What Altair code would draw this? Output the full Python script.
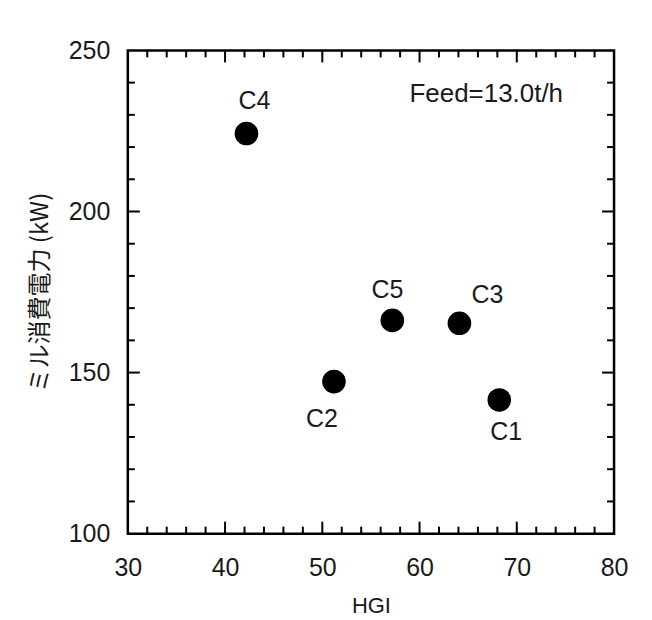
import altair as alt
import pandas as pd

# data
coal = ["C1", "C2", "C3", "C4", "C5"]
hgi = [68.2, 51.2, 64.1, 42.2, 57.2]
power = [141.5, 147.2, 165.3, 224.2, 166.2]

x_major = [40, 50, 60, 70]
x_minor = [32, 34, 36, 38, 42, 44, 46, 48, 52, 54, 56, 58,
           62, 64, 66, 68, 72, 74, 76, 78]
y_major = [150, 200]
y_minor = [110, 120, 130, 140, 160, 170, 180, 190, 210, 220, 230, 240]

x_ticks = [30, 40, 50, 60, 70, 80]
y_ticks = [100, 150, 200, 250]

df = pd.DataFrame({"coal": coal, "hgi": hgi, "power": power})

W, H = 487, 484
FONT = "Liberation Sans"
TXT = "#1a1a1a"

xs = alt.Scale(domain=[30, 80], nice=False, zero=False)
ys = alt.Scale(domain=[100, 250], nice=False, zero=False)

points = alt.Chart(df).mark_circle(size=560, color="black", opacity=1).encode(
    x=alt.X("hgi:Q", scale=xs,
            axis=alt.Axis(title="HGI", values=x_ticks, ticks=False, domain=False,
                          grid=False, labelPadding=22, titlePadding=15,
                          labelFlush=False, labelOverlap=False,
                          labelFontSize=25, titleFontSize=22, labelFont=FONT,
                          titleFont=FONT, labelColor=TXT, titleColor=TXT,
                          titleFontWeight="normal")),
    y=alt.Y("power:Q", scale=ys,
            axis=alt.Axis(title="ミル消費電力 (kW)", values=y_ticks, ticks=False,
                          domain=False, grid=False, labelPadding=18, titlePadding=16,
                          labelFlush=False, labelOverlap=False,
                          labelFontSize=25, titleFontSize=24, labelFont=FONT,
                          titleFont="Noto Sans CJK JP", labelColor=TXT,
                          titleColor=TXT, titleFontWeight="normal")),
)

label_offsets = {"C1": (7, 32), "C2": (-12, 37), "C3": (28, -28),
                 "C4": (8, -33), "C5": (-5, -30)}

labels = []
for name, (ddx, ddy) in label_offsets.items():
    labels.append(
        alt.Chart(df).transform_filter(alt.datum.coal == name)
        .mark_text(dx=ddx, dy=ddy, fontSize=25, font=FONT, color=TXT,
                   align="center", baseline="middle")
        .encode(x=alt.X("hgi:Q", scale=xs), y=alt.Y("power:Q", scale=ys),
                text="coal:N")
    )

def xtick(vals, y1, y2):
    return alt.Chart(pd.DataFrame({"v": vals})).mark_rule(
        color="black", strokeWidth=2).encode(
        x=alt.X("v:Q", scale=xs), y=alt.value(y1), y2=alt.value(y2))

def ytick(vals, x1, x2):
    return alt.Chart(pd.DataFrame({"v": vals})).mark_rule(
        color="black", strokeWidth=2).encode(
        y=alt.Y("v:Q", scale=ys), x=alt.value(x1), x2=alt.value(x2))

MJ, MN = 12, 7
ticks = [
    xtick(x_major, H, H - MJ), xtick(x_minor, H, H - MN),
    xtick(x_major, 0, MJ), xtick(x_minor, 0, MN),
    ytick(y_major, 0, MJ), ytick(y_minor, 0, MN),
    ytick(y_major, W, W - MJ), ytick(y_minor, W, W - MN),
]

feed = alt.Chart(pd.DataFrame({"t": ["Feed=13.0t/h"]})).mark_text(
    fontSize=26, font=FONT, color=TXT, align="center", baseline="middle"
).encode(x=alt.value(359), y=alt.value(44), text="t:N")

chart = alt.layer(*ticks, points, *labels, feed).properties(
    width=W, height=H,
    background="white",
    autosize=alt.AutoSizeParams(type="none"),
    padding={"left": 120, "top": 42, "right": 30, "bottom": 86},
).configure_view(stroke="black", strokeWidth=2.5)

chart.save("out.html", embed_options={"renderer": "svg", "actions": False})
